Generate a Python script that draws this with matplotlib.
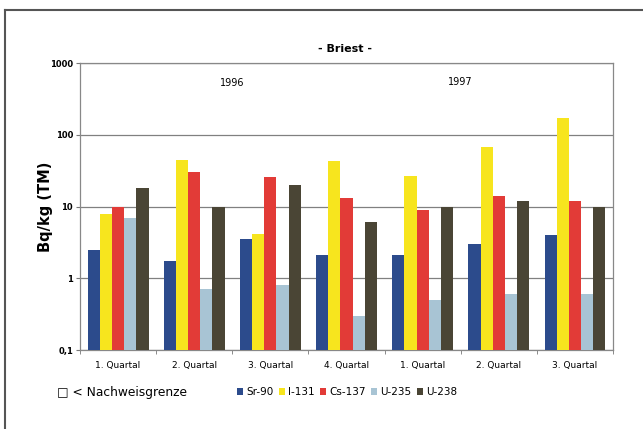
import numpy as np
import matplotlib.pyplot as plt
from matplotlib.lines import Line2D

# quarters (1996: 1-4, 1997: 1-3)
quarters = ["1. Quartal", "2. Quartal", "3. Quartal", "4. Quartal",
            "1. Quartal", "2. Quartal", "3. Quartal"]
nuclides = ["Sr-90", "I-131", "Cs-137", "U-235", "U-238"]

sr90 = [2.45, 1.75, 3.5, 2.1, 2.1, 3.0, 4.0]
i131 = [8.0, 45, 4.2, 43, 27, 68, 170]
cs137 = [10, 30, 26, 13, 9, 14, 12]
u235 = [7.0, 0.7, 0.8, 0.3, 0.5, 0.6, 0.6]
u238 = [18, 10, 20, 6.0, 10, 12, 10]

years = ["1996", "1997"]

colors = ["#2c4b8c", "#f7e51e", "#e23b37", "#a8c4d4", "#4a4535"]

fig = plt.figure(figsize=(6.43, 4.29), dpi=100)
ax = fig.add_axes([0.1244, 0.184, 0.829, 0.669])

x = np.arange(len(quarters)) + 0.5
w = 0.16
for k, (vals, col, name) in enumerate(zip([sr90, i131, cs137, u235, u238], colors, nuclides)):
    ax.bar(x + (k - 2) * w, vals, width=w, color=col, label=name, zorder=3)

ax.set_yscale("log")
ax.set_ylim(0.1, 1000)
ax.set_xlim(0, len(quarters))
ax.set_yticks([0.1, 1, 10, 100, 1000])
ax.set_yticklabels(["0,1", "1", "10", "100", "1000"], fontsize=6, fontweight="bold")
ax.yaxis.set_minor_locator(plt.NullLocator())
ax.grid(axis="y", color="#808080", linewidth=0.9, zorder=0)
ax.set_xticks(x)
ax.set_xticklabels(quarters, fontsize=6.5)
ax.set_xticks(np.arange(len(quarters) + 1), minor=True)
ax.tick_params(axis="x", which="major", length=0, pad=8)
ax.tick_params(axis="x", which="minor", length=3, color="#777777")
ax.tick_params(axis="y", length=3, color="#777777", pad=2)
for s in ax.spines.values():
    s.set_color("#888888")
    s.set_linewidth(0.9)

ax.set_ylabel("Bq/kg (TM)", fontsize=10.5, fontweight="bold", labelpad=-2)

ax.text(2.0, 520, years[0], ha="center", va="center", fontsize=7)
ax.text(5.0, 540, years[1], ha="center", va="center", fontsize=7)

fig.text(0.537, 0.885, "- Briest -", ha="center", va="center", fontsize=8, fontweight="bold")

fig.legend(loc="center", bbox_to_anchor=(0.54, 0.086), ncol=5, frameon=False,
           fontsize=7.5, handlelength=0.6, handleheight=0.6, handletextpad=0.3,
           columnspacing=0.5)

fig.text(0.088, 0.084, "\u25a1 < Nachweisgrenze", ha="left", va="center", fontsize=8.8)

# outer frame (left and top only)
fig.add_artist(Line2D([0.0078, 0.0078], [0.0, 0.977], color="#555555", linewidth=1.5))
fig.add_artist(Line2D([0.0078, 1.0], [0.977, 0.977], color="#555555", linewidth=1.5))

fig.savefig("out.png", dpi=100)
